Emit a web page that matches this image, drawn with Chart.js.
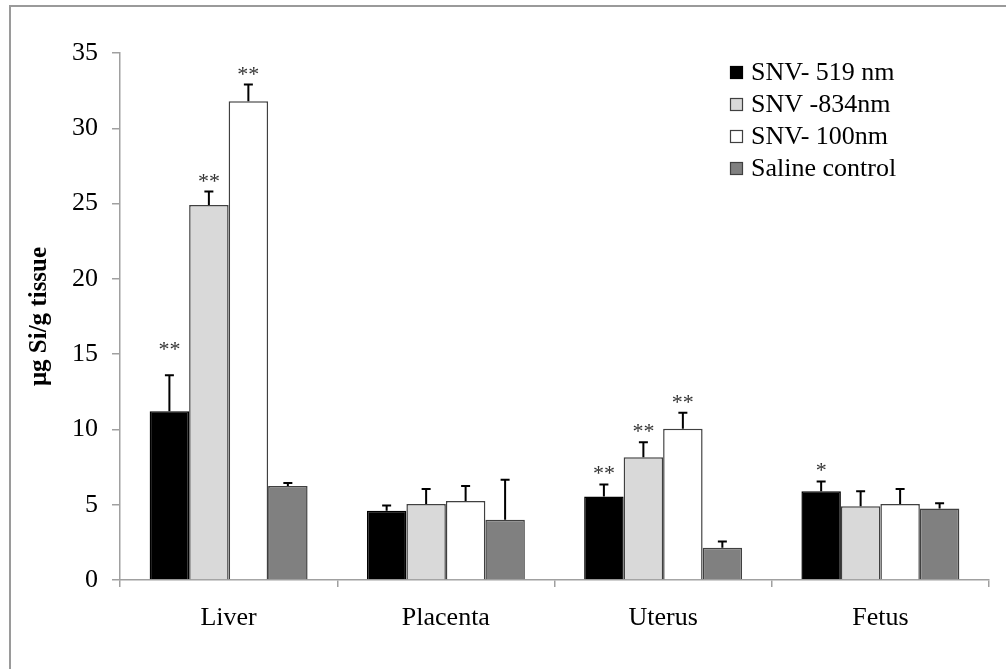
<!DOCTYPE html>
<html>
<head>
<meta charset="utf-8">
<script src="https://cdn.jsdelivr.net/npm/chart.js@4.4.1/dist/chart.umd.min.js"></script>
<style>
  body { margin: 0; background: #fff; }
  #wrap { width: 1006px; height: 669px; position: relative; }
</style>
</head>
<body>
<div id="wrap"><canvas id="c"></canvas></div>
<script>
// categories and series (µg Si / g tissue)
var tissues = ['Liver', 'Placenta', 'Uterus', 'Fetus'];
var seriesNames = ['SNV- 519 nm', 'SNV -834nm', 'SNV- 100nm', 'Saline control'];
var snv519 = [11.2, 4.6, 5.55, 5.9];
var snv834 = [24.9, 5.05, 8.15, 4.9];
var snv100 = [31.8, 5.25, 10.05, 5.05];
var saline = [6.25, 4.0, 2.15, 4.75];
// upper error (SD)
var err519 = [2.4, 0.35, 0.8, 0.65];
var err834 = [0.9, 1.0, 1.0, 1.0];
var err100 = [1.1, 1.0, 1.05, 1.0];
var errSaline = [0.2, 2.65, 0.4, 0.35];
// significance marks
var sig519 = ['**', '', '**', '*'];
var sig834 = ['**', '', '**', ''];
var sig100 = ['**', '', '**', ''];
var sigSaline = ['', '', '', ''];
var yTicks = [0, 5, 10, 15, 20, 25, 30, 35];

var serif = "'Liberation Serif', 'Times New Roman', serif";
var fills = ['#000000', '#d9d9d9', '#ffffff', '#808080'];
var values = [snv519, snv834, snv100, saline];
var errs = [err519, err834, err100, errSaline];
var sigs = [sig519, sig834, sig100, sigSaline];

var datasets = seriesNames.map(function (name, i) {
    return {
        label: name,
        data: values[i],
        errUp: errs[i],
        stars: sigs[i],
        backgroundColor: fills[i],
        borderColor: i === 0 ? '#000000' : '#404040',
        borderWidth: 1.5,
        categoryPercentage: 0.727,
        barPercentage: 1.0
    };
});

// error bars + asterisks
var errorBars = {
    id: 'errorBars',
    afterDatasetsDraw: function (chart) {
        var ctx = chart.ctx;
        var y = chart.scales.y;
        ctx.save();
        chart.data.datasets.forEach(function (ds, di) {
            var meta = chart.getDatasetMeta(di);
            meta.data.forEach(function (bar, i) {
                var top = y.getPixelForValue(ds.data[i] + ds.errUp[i]);
                ctx.strokeStyle = '#000';
                ctx.lineWidth = 2;
                ctx.beginPath();
                ctx.moveTo(bar.x, bar.y);
                ctx.lineTo(bar.x, top);
                ctx.moveTo(bar.x - 4.5, top);
                ctx.lineTo(bar.x + 4.5, top);
                ctx.stroke();
                if (ds.stars[i]) {
                    ctx.fillStyle = '#333';
                    ctx.font = '22px ' + serif;
                    ctx.textAlign = 'center';
                    ctx.textBaseline = 'alphabetic';
                    // first liver mark sits higher in the original
                    var lift = (i === 0 && di === 0) ? 19 : 4;
                    ctx.fillText(ds.stars[i], bar.x, top - lift);
                }
            });
        });
        ctx.restore();
    }
};

// legend inside the plot + outer frame
var legendFrame = {
    id: 'legendFrame',
    afterDraw: function (chart) {
        var ctx = chart.ctx;
        ctx.save();
        ctx.strokeStyle = '#9a9a9a';
        ctx.lineWidth = 2;
        ctx.strokeRect(10, 6, 1010, 680);
        ctx.font = '26px ' + serif;
        ctx.textBaseline = 'middle';
        ctx.textAlign = 'left';
        chart.data.datasets.forEach(function (ds, i) {
            var cy = 72 + i * 32;
            ctx.fillStyle = ds.backgroundColor;
            ctx.fillRect(730, cy - 6, 13, 13);
            ctx.strokeStyle = ds.borderColor;
            ctx.lineWidth = 1.2;
            ctx.strokeRect(730.5, cy - 5.5, 12, 12);
            ctx.fillStyle = '#000';
            ctx.fillText(ds.label, 751, cy + 1);
        });
        ctx.restore();
    }
};

new Chart(document.getElementById('c'), {
    type: 'bar',
    data: { labels: tissues, datasets: datasets },
    options: {
        responsive: true,
        maintainAspectRatio: false,
        animation: false,
        layout: { padding: { top: 53, right: 17, left: 0, bottom: 0 } },
        plugins: {
            legend: { display: false },
            tooltip: { enabled: false }
        },
        scales: {
            x: {
                offset: true,
                grid: {
                    offset: true,
                    drawOnChartArea: false,
                    tickLength: 7,
                    color: '#a0a0a0',
                    lineWidth: 1.5
                },
                border: { color: '#a0a0a0', width: 1.5 },
                ticks: {
                    color: '#000',
                    padding: 16,
                    font: { family: serif, size: 26 }
                },
                afterFit: function (s) { s.height = 89; }
            },
            y: {
                min: 0,
                max: 35,
                afterBuildTicks: function (s) {
                    s.ticks = yTicks.map(function (v) { return { value: v }; });
                },
                grid: {
                    drawOnChartArea: false,
                    tickLength: 8,
                    color: '#a0a0a0',
                    lineWidth: 1.5
                },
                border: { color: '#a0a0a0', width: 1.5 },
                ticks: {
                    color: '#000',
                    padding: 14,
                    font: { family: serif, size: 26 }
                },
                title: {
                    display: true,
                    text: 'μg Si/g tissue',
                    color: '#000',
                    padding: { top: 25, bottom: 0 },
                    font: { family: serif, size: 25, weight: 'bold' }
                },
                afterFit: function (s) { s.width = 120; }
            }
        }
    },
    plugins: [errorBars, legendFrame]
});
</script>
</body>
</html>
